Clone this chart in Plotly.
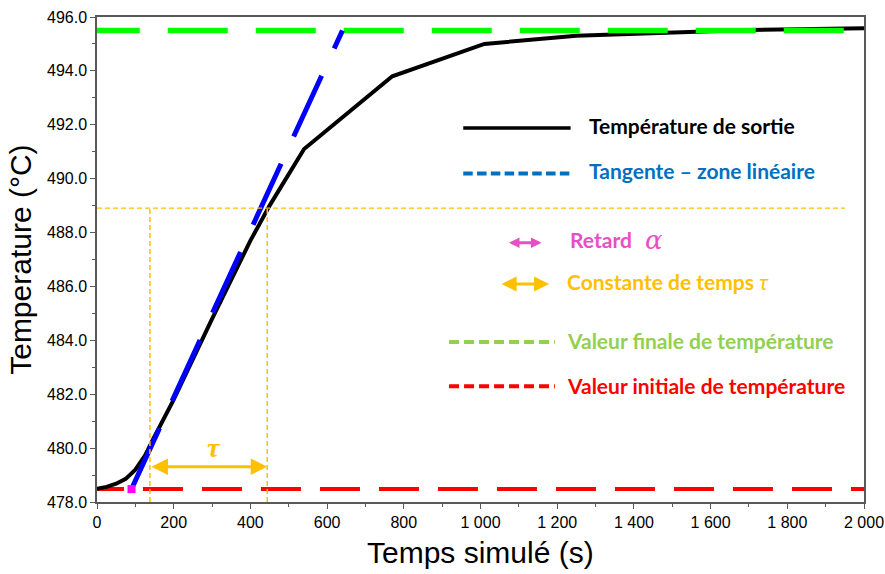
import plotly.graph_objects as go

# Simulated outlet temperature response
time_s = [0, 25, 50, 75, 100, 125, 150, 175, 200, 300, 400, 450, 540, 770, 1010, 1250, 1470, 1700, 2000]
temp_out = [478.49, 478.56, 478.68, 478.86, 479.2, 479.72, 480.43, 481.09, 481.8, 484.8, 487.7, 489.0,
            491.1, 493.8, 495.0, 495.3, 495.42, 495.52, 495.58]

# Characteristic values
t_initial = 478.48          # initial temperature
t_final = 495.5             # final temperature
t_63 = 488.91               # 63 % level
delay_alpha = 90            # delay (tangent meets initial value)
tangent_x = [90, 640]
tangent_y = [478.48, 495.5]
tau_start = 138
tau_end = 444
x_range = [0, 2000]
y_range = [478, 496]

FONT_TXT = "Lato"
FONT_AX = "Liberation Sans"
ORANGE = "#FFC000"
PINK = "#E84FC4"

fig = go.Figure()

# initial value line
fig.add_trace(go.Scatter(x=[-34, 2000], y=[t_initial, t_initial], mode="lines",
                         line=dict(color="#FF0000", width=4, dash="40px,19px"),
                         hoverinfo="skip", showlegend=False))
# outlet temperature
fig.add_trace(go.Scatter(x=time_s, y=temp_out, mode="lines",
                         line=dict(color="black", width=4),
                         showlegend=False))
# final value line
fig.add_trace(go.Scatter(x=[-45, 2000], y=[t_final, t_final], mode="lines",
                         line=dict(color="#00FF00", width=5.5, dash="60px,28px"),
                         hoverinfo="skip", showlegend=False))
# tangent in linear zone
fig.add_trace(go.Scatter(x=tangent_x, y=tangent_y, mode="lines",
                         line=dict(color="#0000FF", width=5, dash="67px,30px"),
                         hoverinfo="skip", showlegend=False))
# 63 % construction lines
fig.add_trace(go.Scatter(x=[0, 1950], y=[t_63, t_63], mode="lines",
                         line=dict(color=ORANGE, width=1.2, dash="5px,3px"),
                         hoverinfo="skip", showlegend=False))
for xv in (tau_start, tau_end):
    fig.add_trace(go.Scatter(x=[xv, xv], y=[y_range[0], t_63], mode="lines",
                             line=dict(color=ORANGE, width=1.5, dash="5px,3px"),
                             hoverinfo="skip", showlegend=False))
# delay point
fig.add_trace(go.Scatter(x=[delay_alpha], y=[t_initial], mode="markers",
                         marker=dict(symbol="square", size=8, color="#FF00FF"),
                         showlegend=False))

annotations = []

# time-constant arrow and label
annotations.append(dict(x=tau_end, y=479.31, ax=tau_start, ay=479.31, xref="x", yref="y",
                        axref="x", ayref="y", text="", showarrow=True, arrowside="end+start",
                        arrowhead=2, arrowsize=1.1, arrowwidth=3, arrowcolor=ORANGE,
                        standoff=0, startstandoff=0))
annotations.append(dict(x=304, y=480.02, xref="x", yref="y", showarrow=False,
                        text="<b><i>τ</i></b>", font=dict(family="Liberation Serif", size=28, color=ORANGE)))
# delay arrow along the time axis
annotations.append(dict(x=80, y=477.9, ax=0, ay=477.9, xref="x", yref="y",
                        axref="x", ayref="y", text="", showarrow=True, arrowside="end+start",
                        arrowhead=2, arrowsize=0.9, arrowwidth=3, arrowcolor=PINK,
                        standoff=0, startstandoff=0))

# key
shapes = [
    dict(type="line", xref="x", yref="y", x0=955, x1=1235, y0=491.88, y1=491.88,
         line=dict(color="black", width=3.3)),
    dict(type="line", xref="x", yref="y", x0=955, x1=1235, y0=490.19, y1=490.19,
         line=dict(color="#0070C0", width=4, dash="9.5px,4.3px")),
    dict(type="line", xref="x", yref="y", x0=918, x1=1194, y0=483.94, y1=483.94,
         line=dict(color="#92D050", width=4, dash="10px,5px")),
    dict(type="line", xref="x", yref="y", x0=918, x1=1194, y0=482.30, y1=482.30,
         line=dict(color="#FF0000", width=4, dash="10px,5px")),
]

def key_text(x, y, text, color):
    annotations.append(dict(x=x, y=y, xref="x", yref="y", xanchor="left", yanchor="middle",
                            showarrow=False, text=text,
                            font=dict(family=FONT_TXT, size=21, color=color)))

key_text(1277, 491.97, "<b>Température de sortie</b>", "black")
key_text(1277, 490.31, "<b>Tangente – zone linéaire</b>", "#0070C0")
key_text(1227, 487.74, "<b>Retard</b>", PINK)
annotations.append(dict(x=1425, y=487.74, xref="x", yref="y", xanchor="left", yanchor="middle",
                        showarrow=False, text="<i>α</i>",
                        font=dict(family="DejaVu Serif", size=26, color=PINK)))
key_text(1220, 486.19, "<b>Constante de temps</b> <i>τ</i>", ORANGE)
key_text(1220, 484.0, "<b>Valeur finale de température</b>", "#92D050")
key_text(1220, 482.32, "<b>Valeur initiale de température</b>", "#FF0000")

for xh, yh, length, size, col in ((1159, 487.62, 34, 0.7, PINK), (1179, 486.09, 49, 1.0, ORANGE)):
    annotations.append(dict(x=xh, y=yh, ax=-length, ay=0, xref="x", yref="y",
                            axref="pixel", ayref="pixel", text="", showarrow=True,
                            arrowside="end+start", arrowhead=2, arrowsize=size, arrowwidth=3,
                            arrowcolor=col, standoff=0, startstandoff=0))

# axis titles
annotations.append(dict(x=0.5, y=-0.104, xref="paper", yref="paper", showarrow=False,
                        text="Temps simulé (s)", xanchor="center", yanchor="middle",
                        font=dict(family=FONT_AX, size=30, color="black")))
annotations.append(dict(x=-0.1, y=0.5, xref="paper", yref="paper", showarrow=False,
                        text="Temperature (°C)", textangle=-90, xanchor="center", yanchor="middle",
                        font=dict(family=FONT_AX, size=30, color="black")))

fig.update_layout(
    width=885, height=574,
    margin=dict(l=97, r=21, t=17, b=72, autoexpand=False),
    plot_bgcolor="white", paper_bgcolor="white",
    separators=". ",
    shapes=shapes, annotations=annotations,
    showlegend=False,
)
fig.update_xaxes(range=x_range, dtick=200, tick0=0, tickformat=",d", automargin=False,
                 ticks="outside", ticklen=5, tickwidth=1, tickcolor="#595959",
                 minor=dict(dtick=100, ticks="outside", ticklen=3, tickcolor="#595959"),
                 showline=True, linecolor="#595959", linewidth=1.5, mirror=True,
                 showgrid=False, zeroline=False,
                 tickfont=dict(family=FONT_AX, size=16, color="black"))
fig.update_yaxes(range=y_range, dtick=2, tick0=478, tickformat=".1f", automargin=False,
                 ticks="outside", ticklen=5, tickwidth=1, tickcolor="#595959",
                 minor=dict(dtick=1, ticks="outside", ticklen=3, tickcolor="#595959"),
                 showline=True, linecolor="#595959", linewidth=1.5, mirror=True,
                 showgrid=False, zeroline=False,
                 tickfont=dict(family=FONT_AX, size=16, color="black"))

fig.write_html("out.html")
